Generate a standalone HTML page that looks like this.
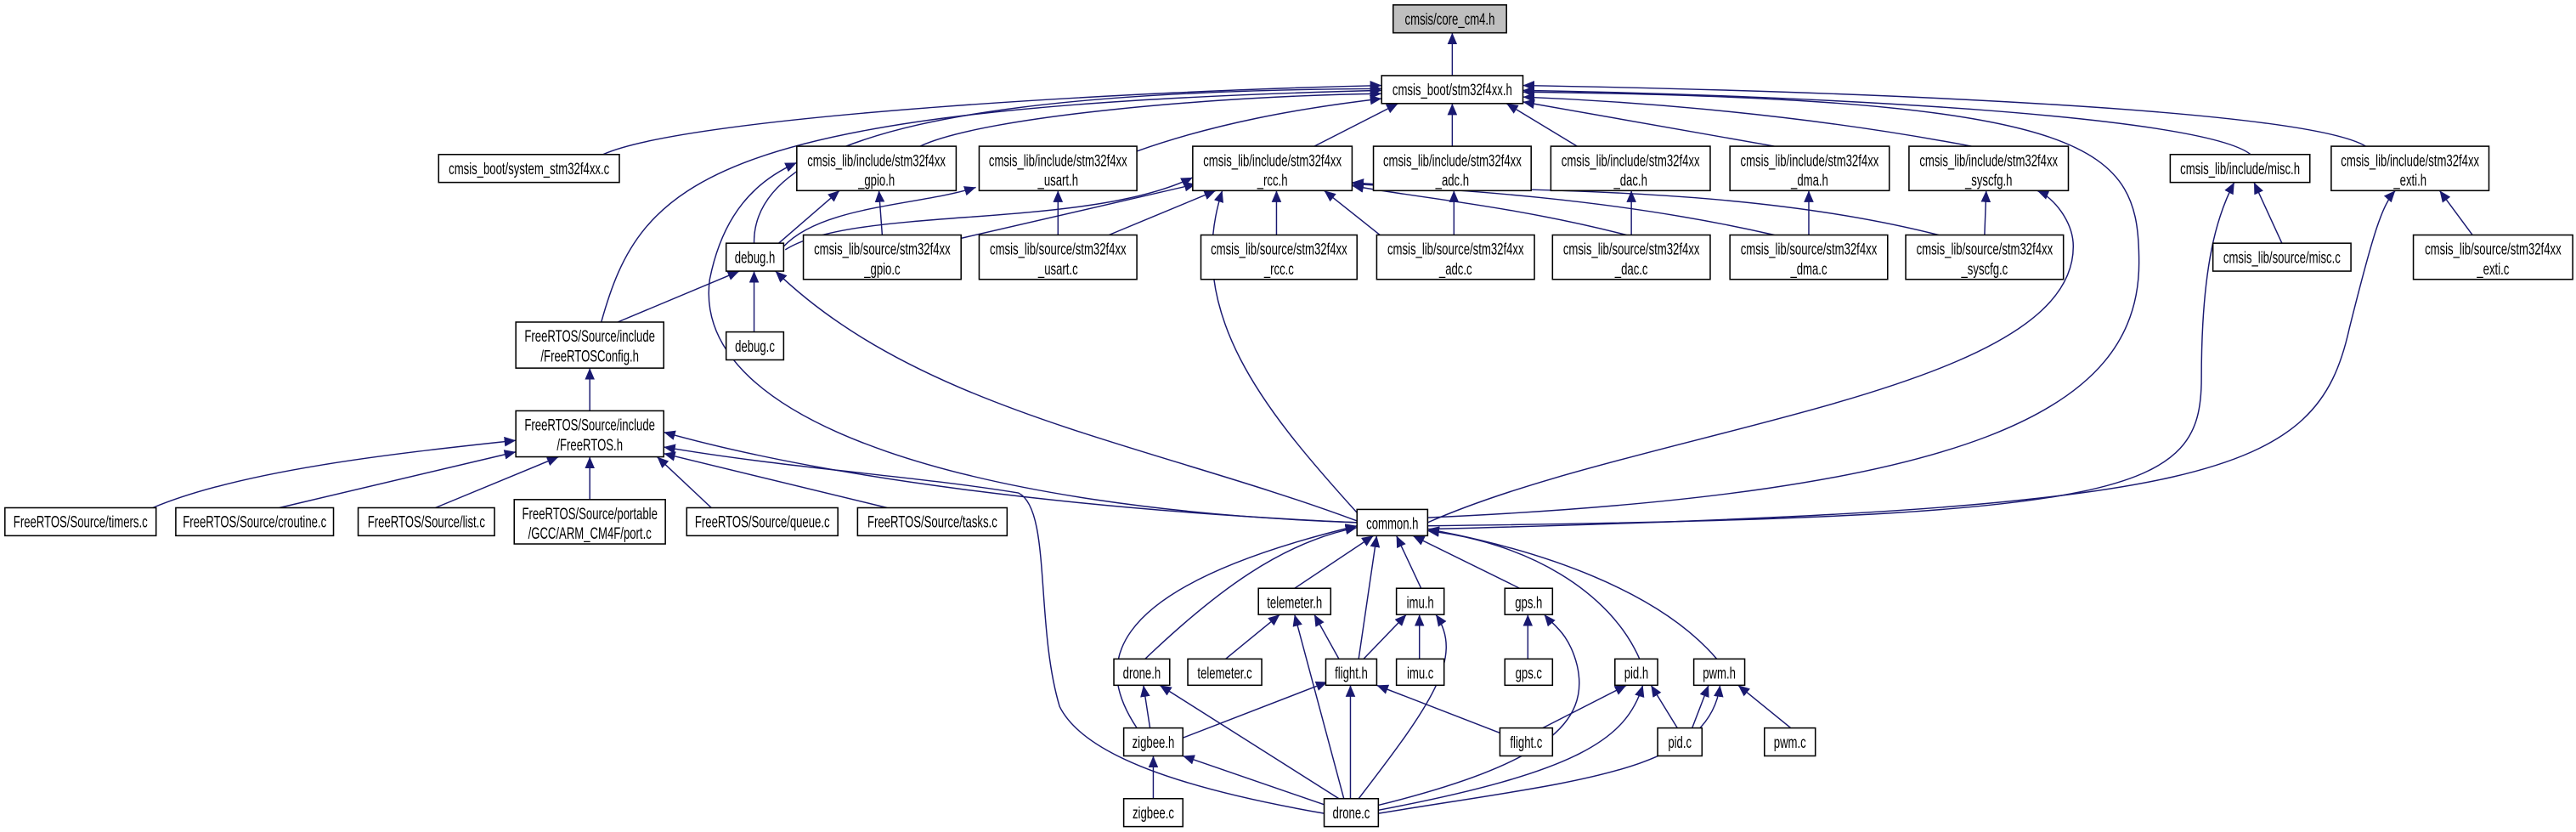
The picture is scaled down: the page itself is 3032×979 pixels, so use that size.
<!DOCTYPE html>
<html><head><meta charset="utf-8"><style>
html,body{margin:0;padding:0;background:#fff;}
svg{display:block;}
text{font-family:"Liberation Sans",Arial,sans-serif;font-size:10px;fill:#000;}
.b{fill:#fff;stroke:#000;stroke-width:0.8;}
.g{fill:#bfbfbf;stroke:#000;stroke-width:0.8;}
.e{fill:none;stroke:#191970;stroke-width:0.75;marker-end:url(#a);}
</style></head><body>
<svg width="3032" height="979" viewBox="0 0 1568 506.3" preserveAspectRatio="none" xmlns="http://www.w3.org/2000/svg">
<defs><marker id="a" markerUnits="userSpaceOnUse" markerWidth="8" markerHeight="6" refX="7" refY="3" orient="auto"><path d="M0,0 L7,3 L0,6 Z" fill="#191970"/></marker></defs>
<g>
<path class="e" d="M884,46 L884,20"/>
<path class="e" d="M367,94 C420,70 700,55 841,52"/>
<path class="e" d="M560,89 C600,70 750,58 841,57"/>
<path class="e" d="M692,92 C740,75 790,66 841,60"/>
<path class="e" d="M800,89 L851,63"/>
<path class="e" d="M884,89 L884,63"/>
<path class="e" d="M960,89 L917,63"/>
<path class="e" d="M1080,89 L927,62"/>
<path class="e" d="M1200,89 C1100,70 1000,62 927,59"/>
<path class="e" d="M1370,94 C1340,70 1100,58 927,55"/>
<path class="e" d="M1440,89 C1400,65 1100,55 927,52"/>
<path class="e" d="M459,148 C458,80 600,55 841,54"/>
<path class="e" d="M366,196 C390,110 430,65 841,55"/>
<path class="e" d="M869,315 C1200,300 1302,250 1302,160 C1302,90 1280,60 927,56"/>
<path class="e" d="M474,148 L511,116"/>
<path class="e" d="M826,318 C600,310 420,260 432,170 C440,130 460,110 485,99"/>
<path class="e" d="M537,143 L535,116"/>
<path class="e" d="M477,150 C500,125 560,125 594,114"/>
<path class="e" d="M644,143 L644,116"/>
<path class="e" d="M478,152 C520,125 660,140 726,108"/>
<path class="e" d="M585,145 L728,112"/>
<path class="e" d="M675,143 L740,116"/>
<path class="e" d="M777,143 L777,116"/>
<path class="e" d="M840,143 L806,116"/>
<path class="e" d="M990,143 C920,125 860,120 823,113"/>
<path class="e" d="M1080,143 C980,120 880,115 823,112"/>
<path class="e" d="M1180,143 C1050,110 900,118 823,111"/>
<path class="e" d="M826,312 C770,250 720,190 744,116"/>
<path class="e" d="M885,143 L885,116"/>
<path class="e" d="M993,143 L993,116"/>
<path class="e" d="M1101,143 L1101,116"/>
<path class="e" d="M1208,143 L1209,116"/>
<path class="e" d="M869,318 C1000,260 1262,240 1262,150 C1262,135 1250,120 1240,116"/>
<path class="e" d="M1389,148 L1372,111"/>
<path class="e" d="M869,320 C1300,315 1340,300 1340,230 C1340,160 1350,130 1360,111"/>
<path class="e" d="M1505,143 L1485,116"/>
<path class="e" d="M869,322 C1350,310 1410,290 1430,200 C1445,140 1450,125 1458,116"/>
<path class="e" d="M376,196 L450,165"/>
<path class="e" d="M459,202 L459,165"/>
<path class="e" d="M826,317 C700,270 560,250 472,165"/>
<path class="e" d="M359,250 L359,224"/>
<path class="e" d="M93,309 C150,285 250,275 314,268"/>
<path class="e" d="M170,309 L314,275"/>
<path class="e" d="M265,309 L340,278"/>
<path class="e" d="M359,304 L359,278"/>
<path class="e" d="M433,309 L400,278"/>
<path class="e" d="M540,309 L404,276"/>
<path class="e" d="M826,318 C650,310 500,290 404,263"/>
<path class="e" d="M806,495 C720,480 660,460 645,430 C630,380 640,310 620,300 C560,290 480,285 404,272"/>
<path class="e" d="M697,401 C740,360 780,330 826,321"/>
<path class="e" d="M788,358 L836,326"/>
<path class="e" d="M827,401 L838,326"/>
<path class="e" d="M865,358 L850,326"/>
<path class="e" d="M925,358 L860,326"/>
<path class="e" d="M998,401 C980,360 930,330 869,323"/>
<path class="e" d="M1045,401 C1010,360 940,335 869,322"/>
<path class="e" d="M692,443 C670,410 660,360 826,320"/>
<path class="e" d="M746,401 L779,374"/>
<path class="e" d="M815,401 L800,374"/>
<path class="e" d="M818,486 L788,374"/>
<path class="e" d="M830,401 L856,374"/>
<path class="e" d="M864,401 L864,374"/>
<path class="e" d="M827,486 C870,430 892,400 874,374"/>
<path class="e" d="M930,401 L930,374"/>
<path class="e" d="M839,490 C940,465 968,440 960,405 C955,385 945,380 940,374"/>
<path class="e" d="M700,443 L696,417"/>
<path class="e" d="M815,486 L706,417"/>
<path class="e" d="M720,449 L808,415"/>
<path class="e" d="M822,486 L822,417"/>
<path class="e" d="M913,446 L838,417"/>
<path class="e" d="M939,443 L990,417"/>
<path class="e" d="M1021,443 L1005,417"/>
<path class="e" d="M839,493 C960,470 990,450 1000,417"/>
<path class="e" d="M1030,443 L1040,417"/>
<path class="e" d="M1090,443 L1058,417"/>
<path class="e" d="M839,495 C960,475 1040,470 1047,417"/>
<path class="e" d="M702,486 L702,460"/>
<path class="e" d="M807,490 L720,460"/>
</g>
<g>
<rect class="g" x="848" y="3" width="69" height="17"/>
<rect class="b" x="841" y="46" width="86" height="17"/>
<rect class="b" x="267" y="94" width="110" height="17"/>
<rect class="b" x="485" y="89" width="97" height="27"/>
<rect class="b" x="596" y="89" width="96" height="27"/>
<rect class="b" x="726" y="89" width="97" height="27"/>
<rect class="b" x="836" y="89" width="96" height="27"/>
<rect class="b" x="944" y="89" width="97" height="27"/>
<rect class="b" x="1053" y="89" width="97" height="27"/>
<rect class="b" x="1162" y="89" width="97" height="27"/>
<rect class="b" x="1321" y="94" width="85" height="17"/>
<rect class="b" x="1419" y="89" width="96" height="27"/>
<rect class="b" x="442" y="148" width="35" height="17"/>
<rect class="b" x="489" y="143" width="96" height="27"/>
<rect class="b" x="596" y="143" width="96" height="27"/>
<rect class="b" x="731" y="143" width="95" height="27"/>
<rect class="b" x="838" y="143" width="96" height="27"/>
<rect class="b" x="945" y="143" width="96" height="27"/>
<rect class="b" x="1053" y="143" width="96" height="27"/>
<rect class="b" x="1160" y="143" width="96" height="27"/>
<rect class="b" x="1347" y="148" width="84" height="17"/>
<rect class="b" x="1469" y="143" width="97" height="27"/>
<rect class="b" x="442" y="202" width="35" height="17"/>
<rect class="b" x="314" y="196" width="90" height="28"/>
<rect class="b" x="314" y="250" width="90" height="28"/>
<rect class="b" x="3" y="309" width="92" height="17"/>
<rect class="b" x="107" y="309" width="96" height="17"/>
<rect class="b" x="218" y="309" width="83" height="17"/>
<rect class="b" x="313" y="304" width="92" height="27"/>
<rect class="b" x="418" y="309" width="92" height="17"/>
<rect class="b" x="522" y="309" width="91" height="17"/>
<rect class="b" x="826" y="310" width="43" height="16"/>
<rect class="b" x="766" y="358" width="44" height="16"/>
<rect class="b" x="850" y="358" width="29" height="16"/>
<rect class="b" x="916" y="358" width="29" height="16"/>
<rect class="b" x="678" y="401" width="34" height="16"/>
<rect class="b" x="723" y="401" width="45" height="16"/>
<rect class="b" x="807" y="401" width="31" height="16"/>
<rect class="b" x="850" y="401" width="29" height="16"/>
<rect class="b" x="916" y="401" width="29" height="16"/>
<rect class="b" x="983" y="401" width="26" height="16"/>
<rect class="b" x="1031" y="401" width="31" height="16"/>
<rect class="b" x="684" y="443" width="36" height="17"/>
<rect class="b" x="913" y="443" width="32" height="17"/>
<rect class="b" x="1009" y="443" width="27" height="17"/>
<rect class="b" x="1074" y="443" width="31" height="17"/>
<rect class="b" x="684" y="486" width="36" height="17"/>
<rect class="b" x="806" y="486" width="33" height="17"/>
</g>
<g text-anchor="middle">
<text transform="translate(882.5,15) scale(0.68,1)">cmsis/core_cm4.h</text>
<text transform="translate(884,58) scale(0.68,1)">cmsis_boot/stm32f4xx.h</text>
<text transform="translate(322,106) scale(0.68,1)">cmsis_boot/system_stm32f4xx.c</text>
<text transform="translate(533.5,101) scale(0.68,1)">cmsis_lib/include/stm32f4xx</text><text transform="translate(533.5,113) scale(0.68,1)">_gpio.h</text>
<text transform="translate(644,101) scale(0.68,1)">cmsis_lib/include/stm32f4xx</text><text transform="translate(644,113) scale(0.68,1)">_usart.h</text>
<text transform="translate(774.5,101) scale(0.68,1)">cmsis_lib/include/stm32f4xx</text><text transform="translate(774.5,113) scale(0.68,1)">_rcc.h</text>
<text transform="translate(884,101) scale(0.68,1)">cmsis_lib/include/stm32f4xx</text><text transform="translate(884,113) scale(0.68,1)">_adc.h</text>
<text transform="translate(992.5,101) scale(0.68,1)">cmsis_lib/include/stm32f4xx</text><text transform="translate(992.5,113) scale(0.68,1)">_dac.h</text>
<text transform="translate(1101.5,101) scale(0.68,1)">cmsis_lib/include/stm32f4xx</text><text transform="translate(1101.5,113) scale(0.68,1)">_dma.h</text>
<text transform="translate(1210.5,101) scale(0.68,1)">cmsis_lib/include/stm32f4xx</text><text transform="translate(1210.5,113) scale(0.68,1)">_syscfg.h</text>
<text transform="translate(1363.5,106) scale(0.68,1)">cmsis_lib/include/misc.h</text>
<text transform="translate(1467,101) scale(0.68,1)">cmsis_lib/include/stm32f4xx</text><text transform="translate(1467,113) scale(0.68,1)">_exti.h</text>
<text transform="translate(459.5,160) scale(0.68,1)">debug.h</text>
<text transform="translate(537,155) scale(0.68,1)">cmsis_lib/source/stm32f4xx</text><text transform="translate(537,167) scale(0.68,1)">_gpio.c</text>
<text transform="translate(644,155) scale(0.68,1)">cmsis_lib/source/stm32f4xx</text><text transform="translate(644,167) scale(0.68,1)">_usart.c</text>
<text transform="translate(778.5,155) scale(0.68,1)">cmsis_lib/source/stm32f4xx</text><text transform="translate(778.5,167) scale(0.68,1)">_rcc.c</text>
<text transform="translate(886,155) scale(0.68,1)">cmsis_lib/source/stm32f4xx</text><text transform="translate(886,167) scale(0.68,1)">_adc.c</text>
<text transform="translate(993,155) scale(0.68,1)">cmsis_lib/source/stm32f4xx</text><text transform="translate(993,167) scale(0.68,1)">_dac.c</text>
<text transform="translate(1101,155) scale(0.68,1)">cmsis_lib/source/stm32f4xx</text><text transform="translate(1101,167) scale(0.68,1)">_dma.c</text>
<text transform="translate(1208,155) scale(0.68,1)">cmsis_lib/source/stm32f4xx</text><text transform="translate(1208,167) scale(0.68,1)">_syscfg.c</text>
<text transform="translate(1389,160) scale(0.68,1)">cmsis_lib/source/misc.c</text>
<text transform="translate(1517.5,155) scale(0.68,1)">cmsis_lib/source/stm32f4xx</text><text transform="translate(1517.5,167) scale(0.68,1)">_exti.c</text>
<text transform="translate(459.5,214) scale(0.68,1)">debug.c</text>
<text transform="translate(359,208) scale(0.68,1)">FreeRTOS/Source/include</text><text transform="translate(359,220) scale(0.68,1)">/FreeRTOSConfig.h</text>
<text transform="translate(359,262) scale(0.68,1)">FreeRTOS/Source/include</text><text transform="translate(359,274) scale(0.68,1)">/FreeRTOS.h</text>
<text transform="translate(49,321) scale(0.68,1)">FreeRTOS/Source/timers.c</text>
<text transform="translate(155,321) scale(0.68,1)">FreeRTOS/Source/croutine.c</text>
<text transform="translate(259.5,321) scale(0.68,1)">FreeRTOS/Source/list.c</text>
<text transform="translate(359,316) scale(0.68,1)">FreeRTOS/Source/portable</text><text transform="translate(359,328) scale(0.68,1)">/GCC/ARM_CM4F/port.c</text>
<text transform="translate(464,321) scale(0.68,1)">FreeRTOS/Source/queue.c</text>
<text transform="translate(567.5,321) scale(0.68,1)">FreeRTOS/Source/tasks.c</text>
<text transform="translate(847.5,322) scale(0.68,1)">common.h</text>
<text transform="translate(788,370) scale(0.68,1)">telemeter.h</text>
<text transform="translate(864.5,370) scale(0.68,1)">imu.h</text>
<text transform="translate(930.5,370) scale(0.68,1)">gps.h</text>
<text transform="translate(695,413) scale(0.68,1)">drone.h</text>
<text transform="translate(745.5,413) scale(0.68,1)">telemeter.c</text>
<text transform="translate(822.5,413) scale(0.68,1)">flight.h</text>
<text transform="translate(864.5,413) scale(0.68,1)">imu.c</text>
<text transform="translate(930.5,413) scale(0.68,1)">gps.c</text>
<text transform="translate(996,413) scale(0.68,1)">pid.h</text>
<text transform="translate(1046.5,413) scale(0.68,1)">pwm.h</text>
<text transform="translate(702,455) scale(0.68,1)">zigbee.h</text>
<text transform="translate(929,455) scale(0.68,1)">flight.c</text>
<text transform="translate(1022.5,455) scale(0.68,1)">pid.c</text>
<text transform="translate(1089.5,455) scale(0.68,1)">pwm.c</text>
<text transform="translate(702,498) scale(0.68,1)">zigbee.c</text>
<text transform="translate(822.5,498) scale(0.68,1)">drone.c</text>
</g>
</svg>
</body></html>
